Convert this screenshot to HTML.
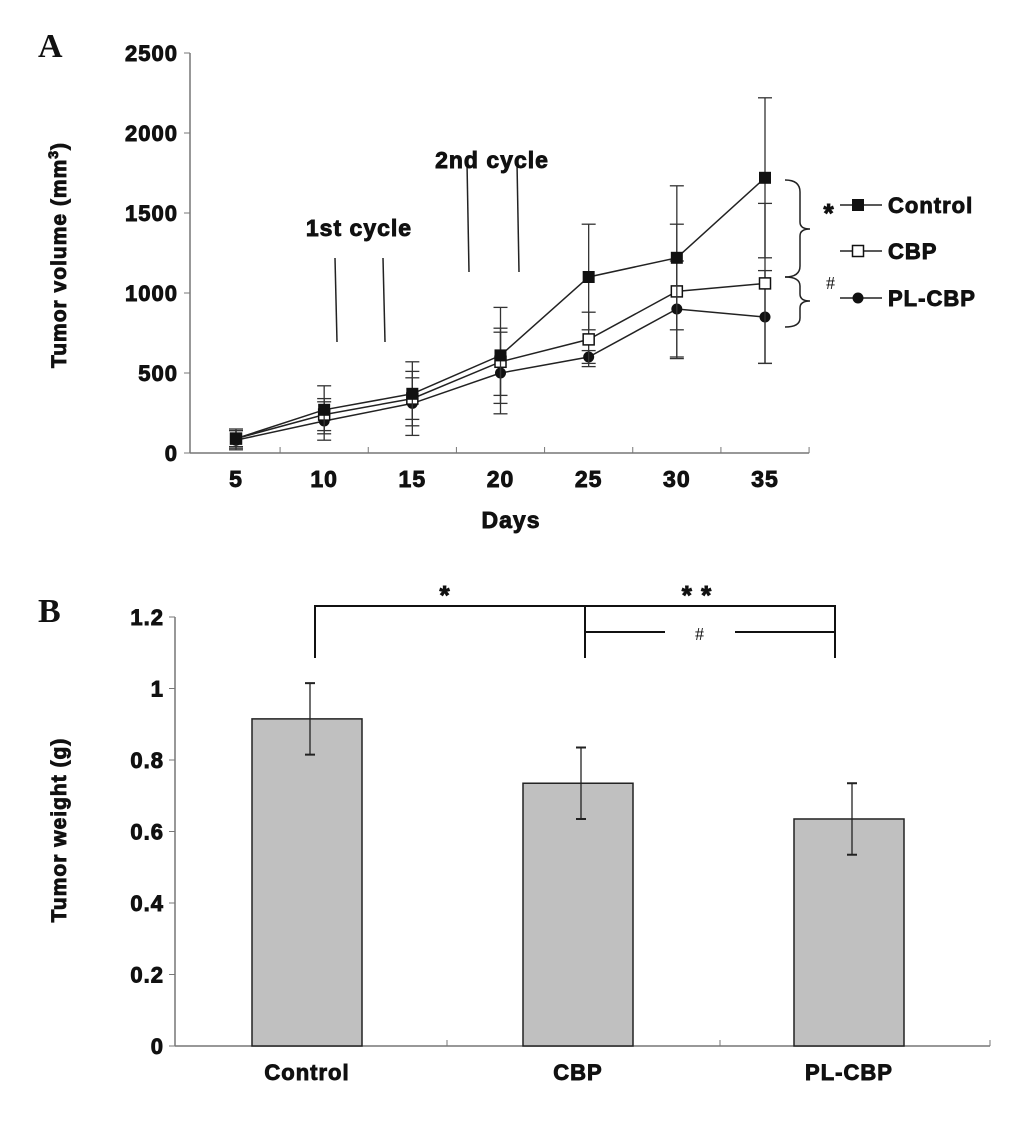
<!DOCTYPE html>
<html><head><meta charset="utf-8"><style>
body{margin:0;background:#fff}
svg text{font-family:"Liberation Sans",sans-serif;font-weight:bold;fill:#111;stroke:#111;stroke-width:0.9px;letter-spacing:1px}
</style></head><body>
<svg id="fig" width="1033" height="1117" viewBox="0 0 1033 1117" xmlns="http://www.w3.org/2000/svg">
<text x="38" y="57" style="font-family:'Liberation Serif',serif;font-size:34px;stroke-width:0;letter-spacing:0">A</text>
<text x="38" y="622" style="font-family:'Liberation Serif',serif;font-size:34px;stroke-width:0;letter-spacing:0">B</text>
<g id="A"></g><g id="B"></g>
</svg>
<script>
const days=[5,10,15,20,25,30,35];
const controlVals=[90,270,370,610,1100,1220,1720];
const controlErr=[60,150,200,300,330,450,500];
const cbpVals=[90,240,340,570,710,1010,1060];
const cbpErr=[50,100,130,210,170,420,500];
const plVals=[80,200,310,500,600,900,850];
const plErr=[60,120,200,255,40,300,290];
const yTicksA=[0,500,1000,1500,2000,2500];
const barCats=["Control","CBP","PL-CBP"];
const barVals=[0.915,0.735,0.635];
const barErr=[0.1,0.1,0.1];
const yTicksB=["0","0.2","0.4","0.6","0.8","1","1.2"];

const NS="http://www.w3.org/2000/svg";
function mk(p,t,a,txt){const e=document.createElementNS(NS,t);for(const k in a)e.setAttribute(k,a[k]);if(txt!==undefined)e.textContent=txt;p.appendChild(e);return e;}
const A=document.getElementById('A'),B=document.getElementById('B');
const xA=d=>236+(d-5)*(529/30), yA=v=>453-v*0.16;
let e=mk(A,'line',{x1:190,y1:53,x2:190,y2:453,stroke:'#777','stroke-width':1.5});

e=mk(A,'line',{x1:190,y1:453,x2:xA(37.5),y2:453,stroke:'#777','stroke-width':1.5});

yTicksA.forEach(v=>{mk(A,'line',{x1:184,y1:yA(v),x2:190,y2:yA(v),stroke:'#777'});
 e=mk(A,'text',{x:178,y:yA(v)+8,'text-anchor':'end','font-size':22},v);
 });
for(let d=7.5;d<=37.5;d+=5)mk(A,'line',{x1:xA(d),y1:447,x2:xA(d),y2:453,stroke:'#777'});
days.forEach(d=>{e=mk(A,'text',{x:xA(d),y:487,'text-anchor':'middle','font-size':23},d);
 });
e=mk(A,'text',{x:511,y:528,'text-anchor':'middle','font-size':23},'Days');

e=mk(A,'text',{transform:'translate(66,255) rotate(-90)','text-anchor':'middle','font-size':21});
e.innerHTML='Tumor volume (mm<tspan dy="-8" font-size="14">3</tspan><tspan dy="8">)</tspan>';

[[335,383,258,342,'1st cycle',236],[467,517,163,272,'2nd cycle',168]].forEach((c,i)=>{
 mk(A,'line',{x1:c[0],y1:c[2],x2:c[0]+2,y2:c[3],stroke:'#222','stroke-width':1.5});
 mk(A,'line',{x1:c[1],y1:c[2],x2:c[1]+2,y2:c[3],stroke:'#222','stroke-width':1.5});
 e=mk(A,'text',{x:(c[0]+c[1])/2,y:c[5],'text-anchor':'middle','font-size':23},c[4]);
 });
function series(vals,err,name,marker){
 const g=mk(A,'g',{});
 days.forEach((d,i)=>{const x=xA(d);
  mk(g,'line',{x1:x,y1:yA(vals[i]+err[i]),x2:x,y2:yA(Math.max(0,vals[i]-err[i])),stroke:'#333','stroke-width':1.3});
  [vals[i]+err[i],Math.max(0,vals[i]-err[i])].forEach(v=>mk(g,'line',{x1:x-7,y1:yA(v),x2:x+7,y2:yA(v),stroke:'#333','stroke-width':1.3}));});
 mk(g,'polyline',{points:days.map((d,i)=>xA(d)+','+yA(vals[i])).join(' '),fill:'none',stroke:'#222','stroke-width':1.5});
 days.forEach((d,i)=>drawMarker(g,xA(d),yA(vals[i]),marker));}
function drawMarker(g,x,y,m){
 if(m==='sq')mk(g,'rect',{x:x-6,y:y-6,width:12,height:12,fill:'#111'});
 else if(m==='osq')mk(g,'rect',{x:x-5.5,y:y-5.5,width:11,height:11,fill:'#fff',stroke:'#111','stroke-width':1.5});
 else mk(g,'circle',{cx:x,cy:y,r:5.5,fill:'#111'});}
series(plVals,plErr,'pl-cbp','c');series(cbpVals,cbpErr,'cbp','osq');series(controlVals,controlErr,'control','sq');
mk(A,'path',{d:'M785,180 Q800,180 800,192 L800,222 Q800,229 810,229 Q800,229 800,236 L800,266 Q800,277 785,277',fill:'none',stroke:'#222','stroke-width':1.5});
mk(A,'path',{d:'M785,277 Q800,277 800,286 L800,294 Q800,301 810,301 Q800,301 800,308 L800,318 Q800,327 785,327',fill:'none',stroke:'#222','stroke-width':1.5});
e=mk(A,'text',{x:829,y:222,'text-anchor':'middle','font-size':26},'*');
e=mk(A,'text',{x:831,y:289,'text-anchor':'middle','font-size':18,style:'font-family:Liberation Serif,serif;font-weight:normal;stroke-width:0'},'#');
[['Control','sq',205],['CBP','osq',251],['PL-CBP','c',298]].forEach(l=>{
 const g=mk(A,'g',{});
 mk(g,'line',{x1:840,y1:l[2],x2:882,y2:l[2],stroke:'#222','stroke-width':1.5});
 drawMarker(g,858,l[2],l[1]);
 mk(g,'text',{x:888,y:l[2]+8,'font-size':22},l[0]);});
const yB=v=>1046-v*357.5, xB=i=>307+i*271;
e=mk(B,'line',{x1:175,y1:617,x2:175,y2:1046,stroke:'#777','stroke-width':1.5});

e=mk(B,'line',{x1:175,y1:1046,x2:990,y2:1046,stroke:'#777','stroke-width':1.5});

yTicksB.forEach(t=>{const v=parseFloat(t);mk(B,'line',{x1:169,y1:yB(v),x2:175,y2:yB(v),stroke:'#777'});
 e=mk(B,'text',{x:164,y:yB(v)+8,'text-anchor':'end','font-size':22},t);
 });
[447,720,990].forEach(x=>mk(B,'line',{x1:x,y1:1040,x2:x,y2:1046,stroke:'#777'}));
barCats.forEach((c,i)=>{const x=xB(i);
 e=mk(B,'rect',{x:x-55,y:yB(barVals[i]),width:110,height:1046-yB(barVals[i]),fill:'#c0c0c0',stroke:'#222','stroke-width':1.5});
 
 mk(B,'line',{x1:x+3,y1:yB(barVals[i]+barErr[i]),x2:x+3,y2:yB(barVals[i]-barErr[i]),stroke:'#222','stroke-width':1.3});
 [barVals[i]+barErr[i],barVals[i]-barErr[i]].forEach(v=>mk(B,'line',{x1:x-2,y1:yB(v),x2:x+8,y2:yB(v),stroke:'#222','stroke-width':2}));
 e=mk(B,'text',{x:x,y:1080,'text-anchor':'middle','font-size':22},c);
 });
e=mk(B,'text',{transform:'translate(66,830) rotate(-90)','text-anchor':'middle','font-size':21},'Tumor weight (g)');

mk(B,'path',{d:'M315,658 L315,606 L835,606 L835,658 M585,658 L585,606',fill:'none',stroke:'#111','stroke-width':2});
mk(B,'path',{d:'M585,632 L665,632 M735,632 L835,632',fill:'none',stroke:'#111','stroke-width':2});
e=mk(B,'text',{x:445,y:604,'text-anchor':'middle','font-size':26},'*');
e=mk(B,'text',{x:697,y:604,'text-anchor':'middle','font-size':26},'* *');
e=mk(B,'text',{x:700,y:640,'text-anchor':'middle','font-size':18,style:'font-family:Liberation Serif,serif;font-weight:normal;stroke-width:0'},'#');
</script>
</body></html>
